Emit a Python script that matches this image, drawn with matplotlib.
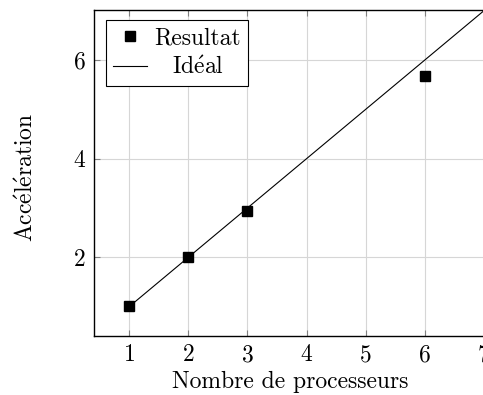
import matplotlib
matplotlib.use("Agg")
import matplotlib.pyplot as plt
from matplotlib.transforms import Affine2D

# speed-up measurements
procs = [1, 2, 3, 6]
speedup = [1.0, 2.0, 2.93, 5.68]
ideal_x = [1, 7]
ideal_y = [1, 7]

xticks = [1, 2, 3, 4, 5, 6, 7]
yticks = [2, 4, 6]

FS = 17

plt.rcParams['font.family'] = ['cmr10', 'DejaVu Serif']
plt.rcParams['mathtext.fontset'] = 'cm'
plt.rcParams['axes.formatter.use_mathtext'] = True

W, H = 483, 395
fig = plt.figure(figsize=(W / 100, H / 100), dpi=100)
# axes runs past the right edge of the figure
ax_l, ax_b, ax_w, ax_h = 94, 59, 425, 326
ax = fig.add_axes([ax_l / W, ax_b / H, ax_w / W, ax_h / H])

ax.grid(True, color='#d6d6d6', linewidth=0.8)
ax.set_axisbelow(True)

ax.plot(procs, speedup, linestyle='none', marker='s', markersize=6.5,
        color='black', label='Resultat', zorder=3)
ax.plot(ideal_x, ideal_y, color='black', linewidth=0.8,
        label=r'Id$\mathrm{\acute{e}}$al', zorder=2)

ax.set_xlim(0.4, 7.6)
ax.set_ylim(0.4, 7.02)
ax.set_xticks(xticks)
ax.set_yticks(yticks)
ax.tick_params(direction='in', length=4, width=0.8, color='#808080',
               top=True, right=True, labelsize=FS, pad=6)

for sp in ax.spines.values():
    sp.set_linewidth(1.0)

# labels are centred on the visible part of the axes
ax.set_xlabel('Nombre de processeurs', fontsize=FS)
ax.xaxis.set_label_coords((290 - ax_l) / ax_w, -(371 - 336) / ax_h)
ax.set_ylabel(r'Acc$\mathrm{\acute{e}}$l$\mathrm{\acute{e}}$ration', fontsize=FS)
ax.yaxis.set_label_coords((38 - ax_l) / ax_w, (336 - 177) / ax_h)

leg = ax.legend(loc='upper left', bbox_to_anchor=(12 / ax_w, 1 - 10 / ax_h),
                borderaxespad=0, fontsize=FS, frameon=True, fancybox=False,
                edgecolor='black', framealpha=1, handlelength=1.44,
                handletextpad=0.31, borderpad=0.3, labelspacing=0.32)
leg.get_frame().set_linewidth(0.8)

# center the shorter legend entry under the longer one
fig.canvas.draw()
texts = leg.get_texts()
widths = [t.get_window_extent().width for t in texts]
wmax = max(widths)
for t, w in zip(texts, widths):
    dx = (wmax - w) / 2
    t.set_transform(t.get_transform() + Affine2D().translate(dx, 0))

fig.savefig('out.png', dpi=100)
